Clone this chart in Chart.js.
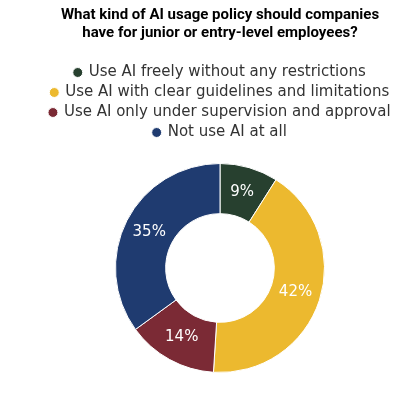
<!DOCTYPE html>
<html><head><meta charset="utf-8">
<script src="https://cdn.jsdelivr.net/npm/chart.js@4"></script>
<style>html,body{margin:0;padding:0;background:#fff}#w{width:404px;height:400px}</style>
</head><body><div id="w"><canvas id="c"></canvas></div>
<script>
const categories = ["Use AI freely without any restrictions","Use AI with clear guidelines and limitations","Use AI only under supervision and approval","Not use AI at all"];
const values = [9, 42, 14, 35];
const colors = ["#27402f","#ecb92f","#7b2a35","#1f3b70"];
const labelPlugin = {
  id:'lbl',
  beforeInit(chart){
    const lg = chart.legend;
    if(lg){ const f = lg.fit; lg.fit = function(){ f.call(this); this.height += 13; }; }
  },
  afterDatasetsDraw(chart){
    const ctx = chart.ctx; const meta = chart.getDatasetMeta(0);
    ctx.save(); ctx.fillStyle='#fff'; ctx.font='15px "DejaVu Sans"'; ctx.textAlign='center'; ctx.textBaseline='middle';
    meta.data.forEach((a,i)=>{ const p=a.tooltipPosition(); ctx.fillText(values[i]+'%', p.x, p.y); });
    ctx.restore();
  }
};
new Chart(document.getElementById('c'),{
  type:'doughnut',
  data:{labels:categories,datasets:[{data:values,backgroundColor:colors,borderColor:'#fff',borderWidth:1}]},
  options:{responsive:true,maintainAspectRatio:false,animation:false,cutout:'52%',
    layout:{padding:{left:36,right:0,top:0,bottom:27}},
    plugins:{
      title:{display:true,text:["What kind of AI usage policy should companies","have for junior or entry-level employees?"],font:{family:'Roboto',size:15,weight:'bold'},color:'#000',padding:{top:6,bottom:18}},
      legend:{position:'top',labels:{usePointStyle:true,pointStyle:'circle',boxWidth:7,boxHeight:7,padding:5,color:'#333',font:{family:'"DejaVu Sans"',size:15}}},
      tooltip:{enabled:false}
    }},
  plugins:[labelPlugin]
});
</script></body></html>
